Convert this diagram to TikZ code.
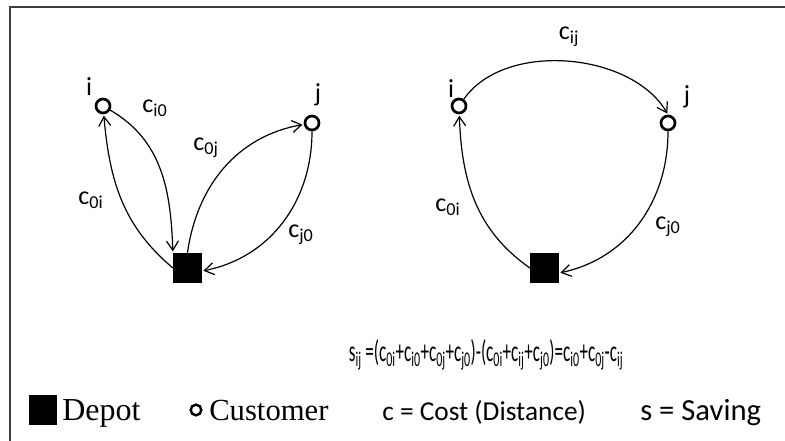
\documentclass[tikz,border=0pt]{standalone}
\usepackage{fontspec}
\setmainfont{Carlito}
\newfontfamily\legendserif{Liberation Serif}
\usetikzlibrary{arrows.meta, positioning, calc}

\newcommand{\cost}[1]{c\textsubscript{#1}}

\begin{document}
\begin{tikzpicture}[x=0.75pt, y=0.75pt,
  customer/.style={circle, draw, line width=2pt, minimum size=10.5pt, inner sep=0pt},
  depot/.style={rectangle, fill=black, minimum width=21.5pt, minimum height=22.5pt, inner sep=0pt},
  route/.style={-{Straight Barb[length=7pt, width=9pt]}, line width=0.9pt, shorten >=1pt},
  lbl/.style={font=\fontsize{19.5}{23}\selectfont, inner sep=0pt},
  legend/.style={font=\fontsize{22}{26}\selectfont, inner sep=0pt, anchor=base west},
]
  \useasboundingbox (0,0) rectangle (785,441);

  % Frame (only the left and top edges show)
  \draw[line width=1.5pt, black!75] (10,0) -- (10,434) -- (785,434);

  % Left: two separate routes 0-i-0 and 0-j-0
  \node[customer] (iL) at (103,335) {};
  \node[customer] (jL) at (312,318) {};
  \node[depot]    (dL) at (187.5,173) {};
  \node[lbl] (iLname) at (89,354) {i};
  \node[lbl] (jLname) at (318,346) {j};

  \draw[route] (dL.west) to[out=140,in=-85] (iL);
  \draw[route] (iL) to[out=-30,in=92] (dL.north west);
  \draw[route] (dL.north) to[out=82,in=190] (jL);
  \draw[route] (jL) to[out=-90,in=11] ($(dL.east)+(0,-3)$);

  \node[lbl] (c0iL) at (91,241) {\cost{0i}};
  \node[lbl] (ci0L) at (155,333) {\cost{i0}};
  \node[lbl] (c0jL) at (206,293) {\cost{0j}};
  \node[lbl] (cj0L) at (301,206) {\cost{j0}};

  % Right: merged route 0-i-j-0
  \node[customer] (iR) at (459,335) {};
  \node[customer] (jR) at (668,318) {};
  \node[depot]    (dR) at (544.5,173) {};
  \node[lbl] (iRname) at (451,352) {i};
  \node[lbl] (jRname) at (687,344) {j};

  \draw[route] (dR.west) to[out=145,in=-88] (iR);
  \draw[route] (iR) to[out=55,in=120,looseness=0.9] (jR.north);
  \draw[route] (jR) to[out=-90,in=12] ($(dR.east)+(0,-5)$);

  \node[lbl] (c0iR) at (448,234) {\cost{0i}};
  \node[lbl] (cijR) at (569,404) {\cost{ij}};
  \node[lbl] (cj0R) at (668,214) {\cost{j0}};

  % Saving formula
  \node[font=\fontsize{22.5}{26}\selectfont, inner sep=0pt, anchor=base, xscale=0.57] (saving) at (486,79)
    {s\textsubscript{ij} =(\cost{0i}+\cost{i0}+\cost{0j}+\cost{j0})-(\cost{0i}+\cost{ij}+\cost{j0})=\cost{i0}+\cost{0j}-\cost{ij}};

  % Legend
  \node[depot, minimum width=21pt] (depotkey) at (43,31) {};
  \node[legend, font=\legendserif\fontsize{24}{28}\selectfont] (depottxt) at (62,20) {Depot};
  \node[circle, draw, line width=1.8pt, minimum size=8pt, inner sep=0pt] (custkey) at (196,31) {};
  \node[legend, font=\legendserif\fontsize{23}{27}\selectfont] (custtxt) at (209,20) {Customer};
  \node[legend, font=\fontsize{20.5}{24}\selectfont] (costtxt) at (382,20) {c = Cost (Distance)};
  \node[legend, font=\fontsize{23}{27}\selectfont] (savetxt) at (640,20) {s = Saving};
\end{tikzpicture}
\end{document}
